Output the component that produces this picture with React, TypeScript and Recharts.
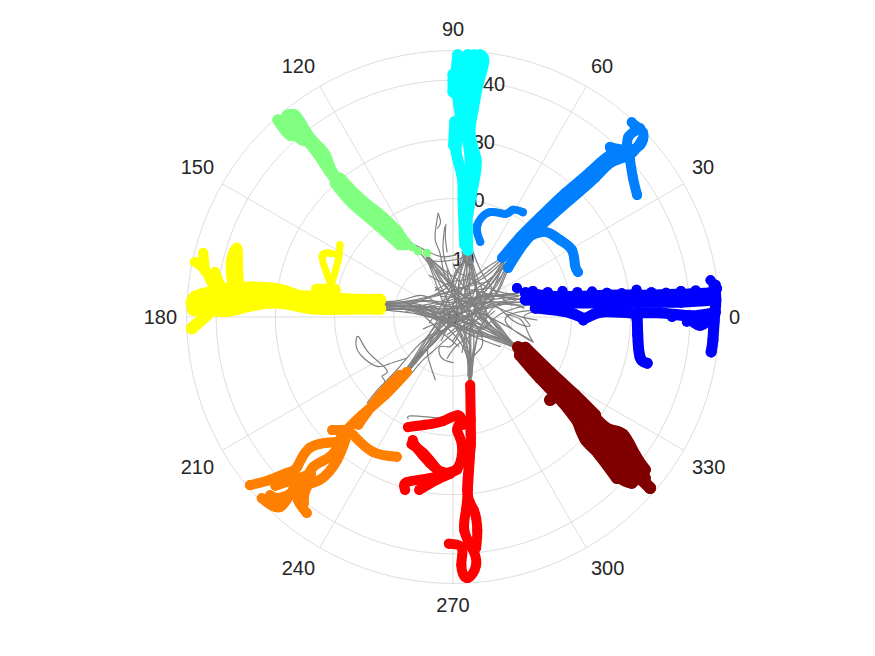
import React from "react";
import { ScatterChart, Scatter, XAxis, YAxis } from "recharts";

type P = [number, number];

// Polar axes
const angleTicks = [0, 30, 60, 90, 120, 150, 180, 210, 240, 270, 300, 330];
const ringTicks = [10, 20, 30, 40, 45];
const radialLabels = [0, 10, 20, 30, 40];
const radialLabelAngle = 80;
const rMax = 45;
const angleLabelRadius = 46.6;

// Gray trajectories from the centre out to each target
const grayToBlue: P[][] = [
  [[11.5,4.2],[8,3.6],[4,3.2],[0,1.5],[-4,0.5]],
  [[11.8,3],[8,3.4],[3,4.6],[-1,5.5],[-4,7]],
  [[12,2.5],[7,2],[3,0.3],[-1,-2],[-5,-4]],
  [[12,1.5],[8,2.5],[4,1],[0,-0.5],[-6,1.5]],
  [[11.2,3.6],[7,4.5],[4,6],[1,7.5],[0,9]],
  [[12.5,2],[8,0.5],[5,-2],[1,-4.5],[-1,-7]],
  [[14.2,-0.5],[11,0.2],[7,1.8],[3,3],[-2,3.5]],
  [[16.9,1.5],[14,1],[12,0],[13,-1.5],[10,-0.5],[6,2.5],[1,0.5]],
  [[18,1.2],[12,1],[9,-1],[13.5,-4.2],[9,-1.5],[4,1]],
];
const grayToAzure: P[][] = [
  [[8.5,9.5],[6.5,6.5],[4,3.5],[1,1],[-2,-1.5]],
  [[9,8.8],[7.5,5.5],[5,2.5],[2,-0.5],[-1,-3]],
  [[8,9.5],[5,7],[2,5],[-1,3],[-5,2]],
  [[9.5,8.5],[8,5],[6.5,3],[3,0],[0,-4]],
  [[8.8,9],[6,5],[3.5,4.5],[0.5,2],[-3,0.5]],
  [[8,9.8],[5.5,8.2],[3,6.5],[0,6],[-3,4.5]],
  [[9.2,8.5],[7,3.5],[4,-0.5],[1,-2.5]],
];
const grayToCyan: P[][] = [
  [[2.2,11.3],[2,8],[1,5],[0,2],[-1,-2]],
  [[3,11],[3.4,8],[4,5],[5,2.5],[6,0]],
  [[2.6,11],[2.8,8],[2,4],[3,0],[5,-3]],
  [[1.8,11],[0.8,8],[-0.5,5],[-2,2],[-4,-1]],
  [[3.4,11],[4.6,8],[6.5,5],[8.5,3],[10,2]],
  [[1.5,11],[1.8,9.4],[0.4,7.6],[0.2,4.5],[1,0]],
  [[3,11],[2.6,9.4],[3.2,7],[1.5,3],[-2,-4]],
  [[2.5,11],[1.2,7],[1,3],[2,-2],[1.5,-6]],
  [[3.2,20.4],[3.1,17.2],[3.4,20.2],[3.3,17.5],[3,20],[3,17.8]],
];
const grayToGreen: P[][] = [
  [[-6,11.5],[-4.5,9.5],[-2.5,7.5],[0,5],[2,1]],
  [[-5,11],[-3.5,9.5],[-1,9.5],[1,9.8],[2.2,10.2]],
  [[-9,14],[-7,12.5],[-4.5,11.2],[-2,10.2],[0.5,10.5]],
  [[-4.5,10],[-3,7],[-1,3],[1,-1],[3,-5]],
  [[-3.8,9.5],[-2,6],[1,3],[4,2],[7,3]],
  [[-2.5,17.5],[-2.8,15.8],[-3,13],[-2.2,10.8],[-1.4,7],[0.5,4]],
  [[-2.5,17.5],[-2.1,16],[-2.6,15]],
  [[-1.4,15.2],[-1.7,11.8],[-1.2,9],[0,6]],
  [[-1.2,15.6],[-1.3,13.5],[-1,11]],
];
const grayToYellow: P[][] = [
  [[-12,2.4],[-8,2.2],[-4,2.6],[1,1.5],[5,3]],
  [[-12,1.8],[-8,1.8],[-3,1],[2,-1],[6,-2]],
  [[-12,1.2],[-8,1.5],[-4,0.5],[0,-1.5],[4,-3.5],[8,-5]],
  [[-12,2],[-7,2.6],[-3,3.5],[2,5],[6,6]],
  [[-12,1.5],[-7,1.2],[-2,-0.5],[3,-2],[9,-4]],
  [[-12,2.2],[-8,2],[-5,3],[-1,5],[1,8],[2,10]],
  [[-12,1],[-8,1.3],[-4,0],[-1,0.5],[3,3],[7,4]],
  [[-12,2.6],[-9,2.8],[-6,3.6],[-4,3.2],[-1,2],[4,4.5]],
  [[-12,1.6],[-8.5,1.6],[-5,1.8],[-1,-0.4],[5,0.5],[10,-4.5]],
  [[-12,2.1],[-8,2.4],[-5.5,0.8],[-2,-2.5],[1,-5]],
];
const grayToOrange: P[][] = [
  [[-7.5,-9],[-5.5,-6.5],[-3,-4],[0,-1],[3,2]],
  [[-8.2,-9.3],[-6,-6.5],[-3.5,-4.7],[-1,-1.5],[1,1.5]],
  [[-7,-9.5],[-5,-7.2],[-2.5,-5],[1,-2],[5,0]],
  [[-9,-10.2],[-6.5,-7],[-4,-4],[-2,-1],[-1,3]],
  [[-10,-11.5],[-7,-7.5],[-4.5,-3.5],[-1,0],[3,1]],
  [[-14.5,-14.5],[-12.5,-12],[-10,-9.5],[-7,-6],[-4,-3.2],[-1,-2]],
  [[-13,-13],[-11.5,-11],[-12,-10],[-11.1,-9.3],[-12.3,-7.8],[-14.6,-5.6],[-16,-3.3],[-16.4,-4.6],[-15.5,-6.5],[-13,-8.3],[-11,-8],[-8,-7]],
  [[-3,-10.6],[-4.2,-6.8],[-4,-4.5],[-2,-1.5]],
  [[0,-7.7],[-2,-6.8],[-2.2,-5],[-0.5,-5],[1,-3]],
];
const grayToRed: P[][] = [
  [[2.7,-11],[2.6,-8],[2,-5],[1,-2],[0,2]],
  [[3,-11],[3,-8],[3.5,-5],[3,-1],[1,3]],
  [[3.2,-10],[3.4,-7.5],[4,-4],[5,-1],[7,1]],
  [[2.5,-10],[2.4,-7],[1,-4],[-2,-1],[-6,1]],
  [[2.8,-10.5],[2.8,-7],[2.2,-3],[3,2],[4,6]],
  [[3,-10],[3.1,-7],[5,-4.5],[3,-0.5],[-1,1]],
  [[-7.6,-17.2],[-7.2,-16.7],[-4,-16.9],[-0.5,-17],[0.5,-16]],
];
const grayToDarkRed: P[][] = [
  [[10.8,-5],[8,-3.5],[5,-1.5],[1,0],[-4,2]],
  [[11,-5.4],[8,-4],[4,-2.5],[0,-1],[-6,0.5]],
  [[10.6,-4.7],[7,-3.4],[3,-3],[-1,-1],[-5,-2]],
  [[11.2,-5.4],[8.5,-3],[5,1],[1,3],[-3,5]],
  [[10.4,-4.6],[7,-2],[3,1],[0,4],[-1,8]],
  [[11,-5],[7,-2.7],[3.5,0.5],[0,1.5],[-8,1]],
  [[10.2,-4.4],[7.5,-2.4],[4.5,0.5],[2,4.5],[2,8]],
  [[13.5,-4.2],[12.6,-2.5],[11.5,-0.5],[9,0.5]],
  [[15,-9.5],[12,-6.5],[10,-5]],
];
const grayCrossing: P[][] = [
  [[-12,2],[-6,1.5],[0,0],[5,-2.5],[10.8,-5]],
  [[-12,1.6],[-6,1],[0,-1],[5,-3.2],[11,-5.2]],
  [[-12,2.4],[-6,2.2],[-1,0.5],[5,-2],[10.5,-4.8]],
  [[-12,1.2],[-5,0.3],[1,-1.8],[6,-3.5],[11,-5.4]],
  [[-12,2.2],[-5,2.8],[0,2.5],[6,3.5],[11,3.5]],
  [[-12,1.8],[-5,1.8],[1,1.8],[6,2.5],[11.5,2.5]],
  [[-12,2],[-6,3],[0,4.5],[5,6.5],[8.5,9.5]],
  [[-12,1.4],[-6,1.4],[0,3],[5,5.5],[9,9]],
  [[2.5,11],[3,7],[4.5,4],[6,3],[11,3.5]],
  [[2.8,11],[3.8,7.5],[5,4.5],[7,2.5],[11.5,2]],
  [[2.2,11],[2.5,6],[4,1],[7,-2],[10.8,-5]],
  [[3,11],[3.5,6],[5.5,1],[8,-2.5],[11,-5]],
  [[-4.5,10.5],[-1,6],[3,3],[7,3.5],[11,4]],
  [[-5,10.8],[-1.5,7],[2,3.5],[6,0],[10.5,-4.8]],
  [[-4.8,10.5],[-1,5],[3,0],[7,-2.5],[11,-5.2]],
  [[-7.6,-9.3],[-4,-5],[0,-1],[5,2],[8.6,9.2]],
  [[-7.5,-9],[-3,-4],[1,0.5],[5,3.5],[11,3]],
  [[-7.8,-9.5],[-3.5,-3],[0,2],[2,6],[2.6,11]],
  [[-8,-9.6],[-4,-3],[-1,2.5],[1,7],[2,11]],
  [[2.9,-11],[2.8,-6],[3,-1],[4,4],[2.6,11]],
  [[2.7,-11],[2.5,-6],[0,-1],[-6,1.5],[-12,2]],
  [[3,-11],[3.5,-6],[5,-1],[8,2.5],[11.5,3]],
  [[3,-10.5],[3,-5],[3.5,1],[6,5],[8.8,9]],
  [[2.8,-10.5],[2,-5],[-1,1],[-3,6],[-4.5,10]],
  [[9,9],[6,5],[2,1],[-3,-3.5],[-7.6,-9]],
  [[9.3,8.6],[6.5,4.5],[3,-1.5],[3,-6],[2.9,-10.5]],
  [[8.6,9.3],[5,4.5],[0,1.5],[-6,1.8],[-12,1.9]],
  [[11,3],[6,1.5],[1,0.5],[-4,-4],[-7.5,-9]],
  [[11,4],[6,3.5],[2,3.5],[-1,7],[-4.6,10.4]],
  [[10.8,-5],[6,-1.5],[3,3],[2.8,7],[2.7,11]],
  [[11,-5],[6,-1],[2,5],[-1,7.5],[-4.6,10.6]],
];

// Target-hold traces, one group per direction
const blueTraces: P[][] = [
  [[12.2,4.1],[16.4,3.5],[21.5,3.5],[28.2,3.7],[33.3,3.7],[40,3.9],[43.7,4.2],[44.3,5.4]],
  [[12.2,2.9],[18.2,2.4],[25,2.4],[31.6,2.5],[38.5,2.5],[44.3,2.9]],
  [[13.9,1.5],[19.8,0.7],[22.3,-0.2],[24.8,0.8],[29.9,0.7],[35,0.7],[40,0.2],[44.3,0.8]],
  [[44.1,5.4],[44.4,2.9],[44.1,-0.8],[43.9,-3.9],[43.6,-5.9]],
  [[31.1,0.8],[31.2,-3],[31.6,-6.8],[32.8,-7.8]],
  [[40,-0.2],[41.7,-1.4],[43.7,-0.2]],
];
const blueEdgeDots: P[][] = [
  [[10.8,4.9]], [[13.5,4.4]], [[16,4.2]], [[18.5,4.4]], [[21,4.2]], [[23.5,4.3]], [[26,4.1]], [[28.5,4]], [[31,4.6]],
  [[33.5,4.2]], [[36,4.1]], [[38.5,4.4]], [[41,4.5]], [[43.5,6.2]], [[44.6,4.8]], [[22,-0.6]], [[31,-0.3]], [[37,0]], [[39.5,-0.8]],
];
const azureTraces: P[][] = [
  [[8.3,10],[11.3,13.5],[14.7,16.9],[18.9,20.9],[23.1,24.5],[26.5,27.4],[29.6,28.2],[31.6,29],[32.1,31.1],[30.7,32.4],[30.2,32.9]],
  [[9.3,8.3],[12.2,12.7],[15.5,16],[19.8,19.8],[24,23.5],[26.9,26.2],[29.9,27.4],[31.9,29.9]],
  [[26.5,28.7],[29.1,28.5],[29.6,30.4],[31.6,31.9]],
  [[29.9,26.5],[30.4,23.5],[31.1,20.6]],
  [[12.2,13.3],[15.5,14.4],[18.1,13],[20.1,11.3],[20.6,8.8],[21.1,7.6]],
];
const azureHook: P[][] = [
  [[4.6,12.7],[4.1,15.5],[6.2,17.7],[8.8,17.4],[10.1,18.1],[11.8,17.7]],
];
const cyanTraces: P[][] = [
  [[0.8,44.3],[0.5,40],[1,35.8],[1.2,31.6],[0.5,28.2],[1.5,24],[1.7,19.8],[2,12.2]],
  [[2.5,44.3],[2.2,39.2],[2.5,35],[2.4,30.7],[2.9,26.5],[2.5,21.4],[2.4,15.5],[2.5,11.3]],
  [[4.6,44.3],[5.2,43.1],[4.2,39.2],[3.4,35],[2.9,30.7],[3.9,26.5],[3.4,22.3],[2.5,17.2]],
  [[3.6,44.3],[3.5,40],[3.2,37]],
  [[0.3,33],[0.2,31],[0.1,29]],
  [[0,41],[0,38]],
];
const greenTraces: P[][] = [
  [[-8.1,12.2],[-11.5,15.5],[-15.4,18.9],[-19.1,22.3],[-21.6,25.7],[-23.3,28.2],[-25.8,30.7],[-27.5,30.7],[-29.6,33.3]],
  [[-9.3,14.4],[-12.7,17.6],[-17.1,20.9],[-20.4,24.5],[-21.6,27.4],[-23.8,29.9],[-25.5,32.4],[-26.7,34.1],[-28,34.1]],
  [[-8.6,13.3],[-12,16.7],[-16,20.3],[-19.1,23.5]],
  [[-9,12.2],[-12.7,15.5],[-17.1,19.3],[-19.9,22.6]],
  [[-27.9,31.3],[-25.8,32.4],[-25,29.9],[-26.7,31.1],[-27.5,33.6]],
];
const greenDots: P[][] = [[[-4.4,10.8]], [[-5.9,11.1]], [[-6.9,11.8]], [[-7.8,12.7]]];
const yellowTraces: P[][] = [
  [[-12.3,2.9],[-18.2,3],[-22.5,3.5],[-25.8,3.5],[-28.4,4.4],[-31.8,4.9],[-36.8,4.9],[-41,4.2],[-43.6,3.4],[-44.1,2],[-43.2,1.2]],
  [[-12.3,1.4],[-18.2,1.4],[-24.2,1.5],[-29.2,2.4],[-34.3,1.9],[-38.5,1],[-41.9,1.4],[-43.9,1.2]],
  [[-17.4,2],[-25.8,2.4],[-32.6,3.2],[-39.4,2.9],[-42.7,2.5]],
  [[-20,4.6],[-23,4.6]],
  [[-40.2,1.5],[-42.2,-0.2],[-44.1,-1.9]],
];
const yellowStubs: P[][] = [
  [[-40.2,4.6],[-41.9,7.9],[-43.6,9.3]],
  [[-39,4.6],[-40.2,7.6]],
  [[-41.9,7.9],[-42.2,10.8]],
  [[-36.1,4.9],[-36.3,8.8],[-36.5,11.7],[-37.5,9.3],[-37.2,4.9]],
];
const yellowLoop: P[][] = [
  [[-20.6,5.4],[-22.1,10],[-21.1,10.8],[-19.6,10.6]],
  [[-20.6,5.4],[-19.4,9.6],[-19.1,12.2]],
];
const orangeTraces: P[][] = [
  [[-7.8,-9.3],[-11.5,-13.2],[-15.4,-16.6],[-18.2,-19.4],[-19.4,-21.1]],
  [[-9,-9.8],[-12.3,-13.2],[-16,-18.2]],
  [[-19.4,-21.1],[-24.2,-22.1],[-26.3,-25.3],[-28,-26.3],[-30.9,-27.5],[-34.3,-28.4]],
  [[-18.6,-20.8],[-20.8,-23.6],[-23.6,-25.3],[-25,-27.5],[-27,-29.2],[-29.2,-32.1],[-32.3,-30.6]],
  [[-18.2,-20.8],[-19.6,-24.2],[-22.5,-27.5],[-25.8,-28.7],[-26.2,-30.9],[-24.7,-33.1]],
  [[-28,-27.5],[-25.8,-28.4],[-28.7,-30.4],[-30.9,-30.1]],
  [[-20.4,-19.1],[-18.2,-19.1]],
  [[-16.9,-19.9],[-13.5,-22.8],[-9.5,-23.6]],
  [[-30,-28.5],[-27,-27.5],[-24,-26.5]],
  [[-25.2,-31.5],[-25,-29.5],[-24,-27.5]],
];
const redTraces: P[][] = [
  [[2.9,-11.5],[3,-17.4],[2.9,-22.5],[2.5,-29.2],[2.2,-32.6],[1.9,-36],[3.2,-39],[3.9,-41.9],[2.4,-44.1],[1.4,-41.9],[1.5,-39],[-0.7,-38.3]],
  [[2.7,-17.4],[3,-21.6],[2.4,-29.2],[3.5,-32.6],[4.1,-36],[3.9,-39]],
  [[-7.6,-18.6],[-4.7,-18.2],[-1.7,-17.6],[0.8,-16.6],[1.7,-18.2]],
  [[-6.8,-20.8],[-6.2,-22],[-3.9,-24.7],[-1.7,-26.2],[0.8,-25.5],[1.5,-21.6],[0.7,-19.1],[1.5,-17.4]],
  [[-7,-21.5],[-5,-23],[-2.8,-25.6]],
  [[-8.1,-29.2],[-7.8,-27.9],[-3.9,-27.2],[0.7,-25.8]],
  [[-5.7,-29.2],[-2.7,-27.5],[-0.5,-26.5]],
];
const darkRedTraces: P[][] = [
  [[11,-5.1],[15.5,-9.3],[19.3,-13.2],[23.1,-17.4],[26.5,-20.8],[31.6,-26.2],[29.9,-27.5]],
  [[12.2,-5.2],[16.4,-9.3],[20.6,-13.2],[24,-16.6]],
  [[11.3,-6.4],[14.7,-10.3],[18.6,-14.4],[21.5,-18.2]],
  [[20.6,-16],[22.5,-20.8],[25.7,-23.8],[28.2,-27],[30.2,-28]],
  [[24.3,-17.4],[26.5,-19.1],[28.7,-19.9],[30.7,-23.3],[32.4,-25.8]],
  [[23.1,-19.1],[26.5,-22.5],[29,-25],[31.6,-27.2]],
  [[22.3,-20.4],[24.8,-23.3],[27.7,-27.2]],
  [[24,-18.2],[31.6,-26.7]],
  [[22.8,-19.9],[29,-27.5]],
  [[25.7,-19.1],[32.4,-27.2]],
  [[16.4,-14],[18.1,-12.8]],
  [[31.6,-27.2],[33.3,-28.9]],
];

const grayTraces = [
  ...grayToBlue, ...grayToAzure, ...grayToCyan, ...grayToGreen,
  ...grayToYellow, ...grayToOrange, ...grayToRed, ...grayToDarkRed, ...grayCrossing,
];

const arms: { traces: P[][]; color: string; w: number }[] = [
  { traces: blueTraces, color: "#0000ff", w: 11 },
  { traces: blueEdgeDots, color: "#0000ff", w: 10 },
  { traces: azureTraces, color: "#0080ff", w: 10 },
  { traces: azureHook, color: "#0080ff", w: 8 },
  { traces: cyanTraces, color: "#00ffff", w: 11 },
  { traces: greenTraces, color: "#80ff80", w: 11 },
  { traces: greenDots, color: "#80ff80", w: 8 },
  { traces: yellowTraces, color: "#ffff00", w: 12 },
  { traces: yellowStubs, color: "#ffff00", w: 10 },
  { traces: yellowLoop, color: "#ffff00", w: 7 },
  { traces: orangeTraces, color: "#ff8000", w: 10 },
  { traces: redTraces, color: "#ff0000", w: 10 },
  { traces: darkRedTraces, color: "#800000", w: 12 },
];

const rad = (a: number) => (a * Math.PI) / 180;
const toPts = (t: P[]) => t.map(([x, y]) => ({ x, y }));
const polar = (r: number, a: number) => ({ x: r * Math.cos(rad(a)), y: r * Math.sin(rad(a)) });

const ringPaths = ringTicks.map((r) =>
  Array.from({ length: 145 }, (_, i) => polar(r, i * 2.5))
);
const spokePaths = angleTicks.map((a) => [polar(0, a), polar(rMax, a)]);

const angleLabelData = angleTicks.map((a) => ({ ...polar(angleLabelRadius, a), label: String(a), a }));
const radialLabelData = radialLabels.map((r) => ({ ...polar(r, radialLabelAngle), label: String(r), a: -1 }));

const textStyle = { fontFamily: "'Liberation Sans', Arial, sans-serif", fontSize: 20, fill: "#262626" };

const AngleLabel = (p: any) => {
  const a = p.payload.a as number;
  const anchor = a === 90 || a === 270 ? "middle" : a < 90 || a > 270 ? "start" : "end";
  const dy = a === 0 || a === 180 ? 7 : a > 0 && a < 180 ? -5 : 19;
  return (
    <text x={p.cx} y={p.cy} dy={dy} textAnchor={anchor} {...textStyle}>
      {p.payload.label}
    </text>
  );
};
const RadialLabel = (p: any) => (
  <text x={p.cx} y={p.cy} dy={7} textAnchor="middle" {...textStyle}>
    {p.payload.label}
  </text>
);

const noPoint = () => <g />;
const dot = (w: number, color: string) => (p: any) => <circle cx={p.cx} cy={p.cy} r={w / 2} fill={color} />;

const Path = (key: string, data: { x: number; y: number }[], color: string, w: number, shape: any, joint: string) => (
  <Scatter
    key={key}
    data={data}
    isAnimationActive={false}
    shape={shape}
    line={{ stroke: color, strokeWidth: w, strokeLinecap: "round", strokeLinejoin: "round", fill: "none" }}
    lineType="joint"
    lineJointType={joint as any}
    legendType="none"
  />
);

export default function App() {
  return (
    <div style={{ position: "absolute", left: 0, top: 0, width: 875, height: 656, background: "#fff" }}>
      <ScatterChart width={875} height={656} margin={{ top: 0, right: 0, bottom: 0, left: 0 }}>
        <XAxis type="number" dataKey="x" hide domain={[-76.52, 71.28]} allowDataOverflow />
        <YAxis type="number" dataKey="y" hide domain={[-57.26, 53.55]} allowDataOverflow />
        {spokePaths.map((d, i) => Path(`s${i}`, d, "#dedede", 1, noPoint, "linear"))}
        {ringPaths.map((d, i) => Path(`r${i}`, d, "#dedede", 1, noPoint, "linear"))}
        <Scatter data={radialLabelData} isAnimationActive={false} shape={RadialLabel} legendType="none" />
        <Scatter data={angleLabelData} isAnimationActive={false} shape={AngleLabel} legendType="none" />
        {grayTraces.map((t, i) => Path(`g${i}`, toPts(t), "#808080", 1.2, noPoint, "natural"))}
        {arms.flatMap((arm, i) =>
          arm.traces.map((t, j) => Path(`a${i}-${j}`, toPts(t), arm.color, arm.w, dot(arm.w, arm.color), "natural"))
        )}
      </ScatterChart>
    </div>
  );
}
